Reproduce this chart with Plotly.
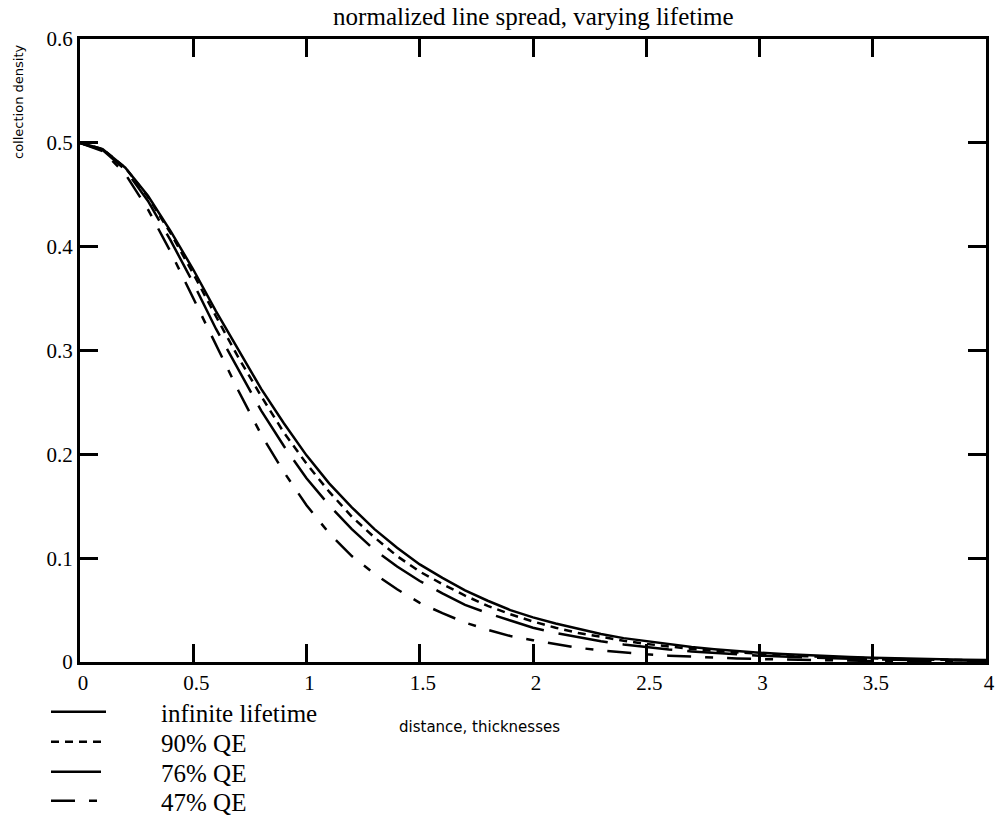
import plotly.graph_objects as go

x_vals = [0.0, 0.1, 0.2, 0.3, 0.4, 0.5, 0.6, 0.7, 0.8, 0.9, 1.0,
          1.1, 1.2, 1.3, 1.4, 1.5, 1.6, 1.7, 1.8, 1.9, 2.0,
          2.1, 2.2, 2.3, 2.4, 2.5, 2.6, 2.7, 2.8, 2.9, 3.0,
          3.1, 3.2, 3.3, 3.4, 3.5, 3.6, 3.7, 3.8, 3.9, 4.0]

infinite_lifetime = [0.500, 0.494, 0.476, 0.449, 0.415, 0.378, 0.338, 0.300, 0.263, 0.230, 0.199,
                     0.172, 0.149, 0.128, 0.110, 0.094, 0.081, 0.069, 0.059, 0.050, 0.043,
                     0.037, 0.032, 0.027, 0.023, 0.020, 0.017, 0.0144, 0.0123, 0.0105, 0.0090,
                     0.0077, 0.0066, 0.0056, 0.0048, 0.0041, 0.0035, 0.0030, 0.0026, 0.0022, 0.0019]

qe_90 = [0.500, 0.494, 0.476, 0.448, 0.413, 0.374, 0.333, 0.293, 0.256, 0.221, 0.191,
         0.164, 0.140, 0.120, 0.102, 0.087, 0.075, 0.064, 0.054, 0.046, 0.039,
         0.033, 0.028, 0.024, 0.0205, 0.0174, 0.0148, 0.0126, 0.0107, 0.0091, 0.0078,
         0.0066, 0.0056, 0.0048, 0.0041, 0.0035, 0.0029, 0.0025, 0.0021, 0.0018, 0.0015]

qe_76 = [0.500, 0.493, 0.474, 0.444, 0.406, 0.365, 0.321, 0.281, 0.242, 0.208, 0.177,
         0.151, 0.128, 0.108, 0.092, 0.078, 0.066, 0.055, 0.047, 0.040, 0.033,
         0.028, 0.024, 0.020, 0.0169, 0.0143, 0.0120, 0.0102, 0.0086, 0.0072, 0.0061,
         0.0052, 0.0044, 0.0037, 0.0031, 0.0026, 0.0022, 0.0019, 0.0016, 0.0013, 0.0011]

qe_47 = [0.500, 0.492, 0.470, 0.436, 0.395, 0.350, 0.305, 0.261, 0.219, 0.183, 0.151,
         0.124, 0.102, 0.085, 0.070, 0.057, 0.047, 0.038, 0.031, 0.025, 0.021,
         0.017, 0.0137, 0.0111, 0.0091, 0.0074, 0.0061, 0.0050, 0.0041, 0.0034, 0.0028,
         0.0023, 0.0019, 0.0015, 0.0013, 0.0010, 0.0009, 0.0007, 0.0006, 0.0005, 0.0004]

series_names = ["infinite lifetime", "90% QE", "76% QE", "47% QE"]
series_values = [infinite_lifetime, qe_90, qe_76, qe_47]
dashes = ["solid", "8px,6px", "50px,15px", "24px,14px,8px,14px"]
legend_ids = ["legend", "legend2", "legend3", "legend4"]
legend_rows_px = [712, 742, 772, 801]

title_text = "normalized line spread, varying lifetime"
x_title = "distance, thicknesses"
y_title = "collection density"

serif = "Liberation Serif, Times New Roman, serif"
sans = "DejaVu Sans, Arial, sans-serif"
pad = "\u00a0" * 8

# plot-area geometry (pixels)
L, R, T, B, W, H = 80, 11, 39, 165, 997, 827
PW, PH = W - L - R, H - T - B

fig = go.Figure()
for name, vals, dash, lg in zip(series_names, series_values, dashes, legend_ids):
    fig.add_trace(go.Scatter(x=x_vals, y=vals, mode="lines", name=pad + name, legend=lg,
                             line=dict(color="black", width=2.5, dash=dash)))

axis_common = dict(showline=True, linewidth=3, linecolor="black", mirror="ticks",
                   ticks="inside", ticklen=18, tickwidth=3, tickcolor="black",
                   showgrid=False, zeroline=False,
                   tickfont=dict(family=serif, size=21, color="black"))

legend_layout = {}
for lg, ypx in zip(legend_ids, legend_rows_px):
    legend_layout[lg] = dict(x=(46 - L) / PW, y=-(ypx - (H - B)) / PH,
                             xanchor="left", yanchor="middle",
                             font=dict(family=serif, size=25, color="black"),
                             bgcolor="rgba(0,0,0,0)", itemwidth=55)

fig.update_layout(
    width=W, height=H,
    margin=dict(l=L, r=R, t=T, b=B, autoexpand=False),
    paper_bgcolor="white", plot_bgcolor="white",
    title=dict(text=title_text, x=0.535, xanchor="center", y=1 - 16 / H, yanchor="middle",
               font=dict(family=serif, size=25, color="black")),
    xaxis=dict(range=[0, 4], dtick=0.5, tick0=0, ticklabelshift=3, **axis_common),
    yaxis=dict(range=[0, 0.6], dtick=0.1, tick0=0, **axis_common),
    showlegend=True,
    **legend_layout,
)

fig.add_annotation(text=x_title, xref="paper", yref="paper", x=(479 - L) / PW,
                   y=-(727 - (H - B)) / PH, showarrow=False, xanchor="center", yanchor="middle",
                   font=dict(family=sans, size=15, color="black"))
fig.add_annotation(text=y_title, xref="paper", yref="paper", x=-(L - 18) / PW,
                   y=1 - (102 - T) / PH, showarrow=False, xanchor="center", yanchor="middle",
                   textangle=-90, font=dict(family=sans, size=13, color="black"))

fig.write_html("out.html", config={"displayModeBar": False},
               post_script="document.body.style.margin='0';")
